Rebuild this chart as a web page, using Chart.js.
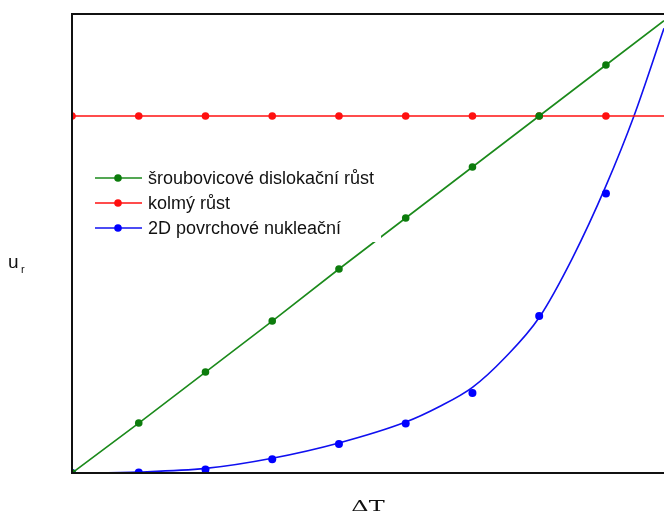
<!DOCTYPE html>
<html><head><meta charset="utf-8">
<script src="https://cdn.jsdelivr.net/npm/chart.js@4/dist/chart.umd.min.js"></script>
<style>html,body{margin:0;padding:0;background:#fff}canvas{display:block}</style>
</head><body>
<canvas id="c" width="664" height="517"></canvas>
<script>
// ---- data ----
const xPoints = [0, 1, 2, 3, 4, 5, 6, 7, 8];
const xMax = 8.87;
const yMax = 9;
const screwValues = [0, 0.98, 1.98, 2.98, 4.0, 5.0, 6.0, 7.0, 8.0];
const screwEnd = 8.87;
const normalValues = [7, 7, 7, 7, 7, 7, 7, 7, 7];
const normalEnd = 7;
const nucleationValues = [0, 0.01, 0.07, 0.27, 0.57, 0.97, 1.57, 3.08, 5.48];
const fitX = [0, 1, 2, 3, 4, 5, 5.5, 6, 6.5, 7, 7.5, 8, 8.42, 8.87];
const fitY = [0, 0.02, 0.09, 0.29, 0.59, 1.0, 1.3, 1.68, 2.28, 3.05, 4.22, 5.63, 7.0, 8.72];
const seriesLabels = ['šroubovicové dislokační růst', 'kolmý růst', '2D povrchové nukleační'];
const xTitle = 'ΔT';
const yTitleMain = 'u';
const yTitleSub = 'r';

const GREEN = '#1b8a1b', GREEN_PT = '#0c7c0c';
const RED = '#ff1010';
const BLUE = '#1010f0', BLUE_PT = '#0000ff';

function pts(xs, ys) { return xs.map((x, i) => ({ x: x, y: ys[i] })); }

const screwData = pts(xPoints, screwValues).concat([{ x: xMax, y: screwEnd }]);
const normalData = pts(xPoints, normalValues).concat([{ x: xMax, y: normalEnd }]);
const radii = xPoints.map(() => 3.8).concat([0]);

const frameAndLabels = {
  id: 'frameAndLabels',
  afterDatasetsDraw(chart) {
    const ctx = chart.ctx, a = chart.chartArea;
    ctx.save();
    // legend background (white box inside plot)
    const lx = a.left + 18, ly = a.top + 151;
    ctx.fillStyle = '#fff';
    ctx.fillRect(lx, ly, 291, 77);
    const items = [
      { label: seriesLabels[0], line: GREEN, pt: GREEN_PT },
      { label: seriesLabels[1], line: RED, pt: RED },
      { label: seriesLabels[2], line: BLUE, pt: BLUE_PT }
    ];
    ctx.font = '18px "Liberation Sans", Arial, sans-serif';
    ctx.textBaseline = 'middle';
    items.forEach((it, i) => {
      const y = a.top + 164 + i * 25;
      ctx.strokeStyle = it.line; ctx.lineWidth = 1.5;
      ctx.beginPath(); ctx.moveTo(a.left + 23, y); ctx.lineTo(a.left + 70, y); ctx.stroke();
      ctx.fillStyle = it.pt;
      ctx.beginPath(); ctx.arc(a.left + 46, y, 3.8, 0, Math.PI * 2); ctx.fill();
      ctx.fillStyle = '#111';
      ctx.fillText(it.label, a.left + 76, y + 1);
    });
    // frame
    ctx.strokeStyle = '#111'; ctx.lineWidth = 2;
    ctx.beginPath();
    ctx.moveTo(a.right + 2, a.top); ctx.lineTo(a.left, a.top); ctx.lineTo(a.left, a.bottom); ctx.lineTo(a.right + 2, a.bottom);
    ctx.stroke();
    // y title u_r
    ctx.fillStyle = '#111';
    ctx.textBaseline = 'alphabetic';
    ctx.textAlign = 'left';
    ctx.font = '19px "Liberation Sans", Arial, sans-serif';
    ctx.fillText(yTitleMain, 8, 268);
    ctx.font = '11px "Liberation Sans", Arial, sans-serif';
    ctx.fillText(yTitleSub, 21, 273);
    // x title ΔT (wide serif)
    ctx.font = '15px "DejaVu Serif", serif';
    ctx.textAlign = 'center';
    ctx.save();
    ctx.translate(368, 511);
    ctx.scale(1.6, 1);
    ctx.fillText(xTitle, 0, 0);
    ctx.restore();
    ctx.restore();
  }
};

new Chart(document.getElementById('c'), {
  type: 'scatter',
  data: {
    datasets: [
      { label: seriesLabels[0], data: screwData, showLine: true, borderColor: GREEN, backgroundColor: GREEN_PT,
        borderWidth: 1.6, pointRadius: radii, pointBorderWidth: 0, pointHoverRadius: radii },
      { label: seriesLabels[1], data: normalData, showLine: true, borderColor: RED, backgroundColor: RED,
        borderWidth: 1.6, pointRadius: radii, pointBorderWidth: 0, pointHoverRadius: radii },
      { label: seriesLabels[2], data: pts(xPoints, nucleationValues), showLine: false, backgroundColor: BLUE_PT,
        borderColor: BLUE_PT, pointRadius: 4, pointBorderWidth: 0 },
      { label: 'fit', data: pts(fitX, fitY), showLine: true, borderColor: BLUE, borderWidth: 1.6,
        pointRadius: 0, cubicInterpolationMode: 'monotone' }
    ]
  },
  options: {
    responsive: false,
    animation: false,
    events: [],
    layout: { autoPadding: false, padding: { left: 72, top: 14, right: 0, bottom: 44 } },
    plugins: { legend: { display: false }, tooltip: { enabled: false } },
    scales: {
      x: { type: 'linear', min: 0, max: xMax, display: false },
      y: { type: 'linear', min: 0, max: yMax, display: false }
    }
  },
  plugins: [frameAndLabels]
});
</script>
</body></html>
